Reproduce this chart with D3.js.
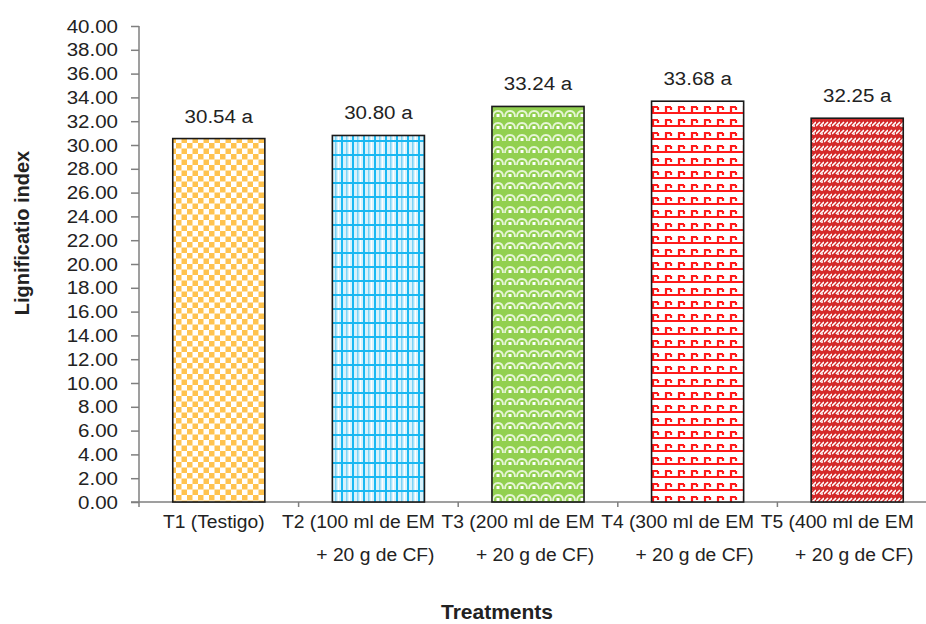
<!DOCTYPE html>
<html>
<head>
<meta charset="utf-8">
<script src="https://cdn.jsdelivr.net/npm/d3@7"></script>
<style>
  html, body { margin: 0; padding: 0; background: #fff; }
  svg { display: block; font-family: "Liberation Sans", Arial, sans-serif; }
</style>
</head>
<body>
<svg id="chart" width="926" height="624"></svg>
<script>
// ---- data ----
const categories = [
  "T1 (Testigo)",
  "T2 (100 ml de EM + 20 g de CF)",
  "T3 (200 ml de EM + 20 g de CF)",
  "T4 (300 ml de EM + 20 g de CF)",
  "T5 (400 ml de EM + 20 g de CF)"
];
const values = [30.54, 30.80, 33.24, 33.68, 32.25];
const letters = ["a", "a", "a", "a", "a"];
const yTicks = [0,2,4,6,8,10,12,14,16,18,20,22,24,26,28,30,32,34,36,38,40];
const patternIds = ["p1", "p2", "p3", "p4", "p5"];
const yTitle = "Lignificatio index";
const xTitle = "Treatments";

const svg = d3.select("#chart");
const mLeft = 139, mRight = 937, mTop = 26, mBottom = 502;

const x = d3.scaleBand().domain(categories).range([mLeft, mRight]).padding(0);
const y = d3.scaleLinear().domain([0, 40]).range([mBottom, mTop]);

// ---- patterns ----
const defs = svg.append("defs");
// T1 orange checkerboard
{
  const p = defs.append("pattern").attr("id", "p1").attr("patternUnits", "userSpaceOnUse")
    .attr("width", 11).attr("height", 11);
  p.append("rect").attr("width", 11).attr("height", 11).attr("fill", "#fff");
  p.append("rect").attr("x", 0).attr("y", 0).attr("width", 5.5).attr("height", 5.5).attr("fill", "#FFC34F");
  p.append("rect").attr("x", 5.5).attr("y", 5.5).attr("width", 5.5).attr("height", 5.5).attr("fill", "#FFC34F");
}
// T2 blue plaid
{
  const p = defs.append("pattern").attr("id", "p2").attr("patternUnits", "userSpaceOnUse")
    .attr("width", 11).attr("height", 14);
  p.append("rect").attr("width", 11).attr("height", 14).attr("fill", "#D8F2FC");
  p.append("rect").attr("x", 0).attr("y", 0).attr("width", 2).attr("height", 14).attr("fill", "#19B8F2");
  p.append("rect").attr("x", 5).attr("y", 0).attr("width", 1.5).attr("height", 14).attr("fill", "#7AD3F6");
  p.append("rect").attr("x", 8).attr("y", 0).attr("width", 1).attr("height", 14).attr("fill", "#fff");
  p.append("rect").attr("x", 0).attr("y", 0).attr("width", 11).attr("height", 2).attr("fill", "#19B8F2");
}
// T3 green with white arcs
{
  const p = defs.append("pattern").attr("id", "p3").attr("patternUnits", "userSpaceOnUse")
    .attr("width", 12).attr("height", 12);
  p.append("rect").attr("width", 12).attr("height", 12).attr("fill", "#92D050");
  p.append("path").attr("d", "M1,9 Q1,3 6,3 Q11,3 11,9").attr("fill", "none").attr("stroke", "#E6F5D6").attr("stroke-width", 1.8);
  p.append("rect").attr("x", 4.5).attr("y", 6).attr("width", 3).attr("height", 3).attr("fill", "#fff");
}
// T4 red divot on white
{
  const p = defs.append("pattern").attr("id", "p4").attr("patternUnits", "userSpaceOnUse")
    .attr("width", 13).attr("height", 13);
  p.append("rect").attr("width", 13).attr("height", 13).attr("fill", "#fff");
  p.append("path").attr("d", "M0,9 H13 M3,9 V3 H8 M8,3 V6").attr("fill", "none")
    .attr("stroke", "#FF1A1A").attr("stroke-width", 2.2);
}
// T5 dark red shingle
{
  const p = defs.append("pattern").attr("id", "p5").attr("patternUnits", "userSpaceOnUse")
    .attr("width", 8).attr("height", 8);
  p.append("rect").attr("width", 8).attr("height", 8).attr("fill", "#D42A2A");
  p.append("path").attr("d", "M0,6 L4,2 M4,6 L8,2").attr("fill", "none")
    .attr("stroke", "#fff").attr("stroke-width", 1.6);
  p.append("rect").attr("x", 5).attr("y", 5).attr("width", 2).attr("height", 2).attr("fill", "#F5C8C8");
}

// ---- y axis ----
const yAxis = d3.axisLeft(y).tickValues(yTicks).tickFormat(d3.format(".2f")).tickSize(8).tickPadding(13);
const yg = svg.append("g").attr("transform", `translate(${mLeft},0)`).call(yAxis);
yg.select(".domain").attr("stroke", "#7f7f7f").attr("stroke-width", 1.5).attr("d", `M0,${mTop}V${mBottom + 5}`);
yg.selectAll(".tick line").attr("stroke", "#7f7f7f").attr("stroke-width", 1.5);
yg.selectAll(".tick text").attr("font-size", 19).attr("fill", "#222")
  .attr("font-family", "Liberation Sans, Arial, sans-serif")
  .attr("transform", "scale(1.08,1)").attr("x", -21 / 1.08);

// ---- x axis ----
const boundaries = categories.map(c => x(c));
const xg = svg.append("g");
xg.append("line").attr("x1", mLeft - 8).attr("x2", 926).attr("y1", mBottom).attr("y2", mBottom)
  .attr("stroke", "#7f7f7f").attr("stroke-width", 1.5);
xg.selectAll("line.tk").data(boundaries.slice(1)).join("line").attr("class", "tk")
  .attr("x1", d => d).attr("x2", d => d).attr("y1", mBottom).attr("y2", mBottom + 5)
  .attr("stroke", "#7f7f7f").attr("stroke-width", 1.5);

// ---- bars ----
const barW = x.bandwidth() * 0.577;
svg.append("g").selectAll("rect").data(values).join("rect")
  .attr("x", (d, i) => x(categories[i]) + x.bandwidth() / 2 - barW / 2)
  .attr("y", d => y(d))
  .attr("width", barW)
  .attr("height", d => y(0) - y(d))
  .attr("fill", (d, i) => `url(#${patternIds[i]})`)
  .attr("stroke", "#1a1a1a").attr("stroke-width", 1.6);

// ---- value labels ----
svg.append("g").selectAll("text").data(values).join("text")
  .attr("transform", (d, i) => `translate(${x(categories[i]) + x.bandwidth() / 2},${y(d) - 16}) scale(1.08,1)`)
  .attr("text-anchor", "middle").attr("font-size", 19).attr("fill", "#222")
  .text((d, i) => `${d.toFixed(2)} ${letters[i]}`);

// ---- category labels ----
const cg = svg.append("g");
categories.forEach((c, i) => {
  const idx = c.indexOf(" + ");
  const lines = idx >= 0 ? [c.slice(0, idx), c.slice(idx + 1)] : [c];
  lines.forEach((ln, j) => {
    const off = lines.length === 1 ? -5 : (j === 0 ? -20 : -3);
    cg.append("text")
      .attr("transform", `translate(${x(c) + x.bandwidth() / 2 + off},${528 + j * 33}) scale(1.07,1)`)
      .attr("text-anchor", "middle").attr("font-size", 18).attr("fill", "#222")
      .text(ln);
  });
});

// ---- axis titles ----
svg.append("text").attr("x", 497).attr("y", 619).attr("text-anchor", "middle")
  .attr("font-size", 21).attr("font-weight", "bold").attr("fill", "#222").text(xTitle);
svg.append("text").attr("transform", `translate(29,233) rotate(-90)`).attr("text-anchor", "middle")
  .attr("font-size", 20).attr("font-weight", "bold").attr("fill", "#222").text(yTitle);
</script>
</body>
</html>
